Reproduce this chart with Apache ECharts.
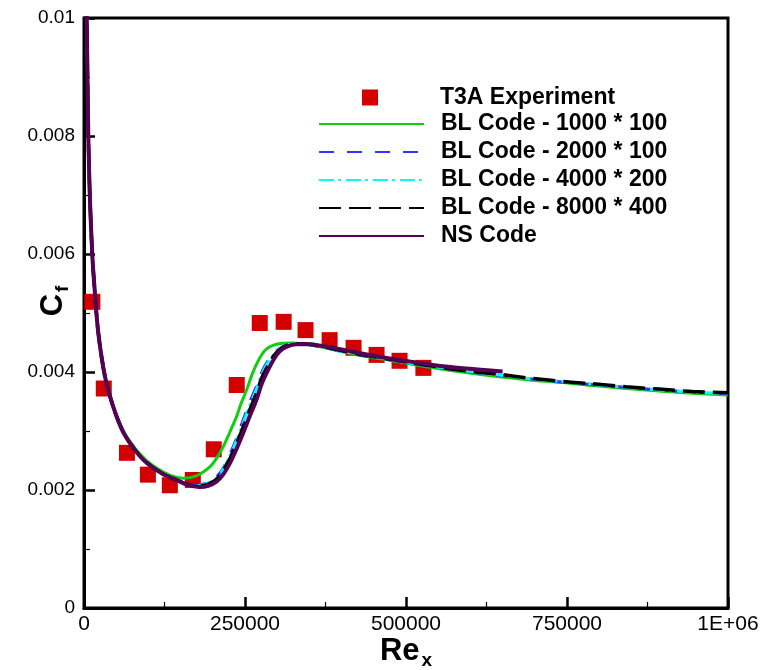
<!DOCTYPE html>
<html>
<head>
<meta charset="utf-8">
<script src="https://cdn.jsdelivr.net/npm/echarts@6/dist/echarts.min.js"></script>
<style>
  html, body { margin: 0; padding: 0; background: #fff; }
  #chart { width: 766px; height: 670px; }
</style>
</head>
<body>
<div id="chart"></div>
<script>
// Skin-friction coefficient along a flat plate (T3A case)

// Axis tick labels
const xTickLabels = ['0', '250000', '500000', '750000', '1E+06'];
const yTickLabels = ['0', '0.002', '0.004', '0.006', '0.008', '0.01'];

// T3A experiment
const reExp = [13000, 30700, 66700, 99200, 133300, 169000, 201500, 237200, 272900, 310000, 344000, 381400, 418600, 454300, 490000, 527000];
const cfExp = [0.00519, 0.00372, 0.00263, 0.00226, 0.00208, 0.00217, 0.00269, 0.00378, 0.00483, 0.00485, 0.00471, 0.00454, 0.00441, 0.00429, 0.00419, 0.00407];

// BL code, 1000 * 100
const reBL1 = [3500, 4200, 5200, 6700, 9000, 12900, 17000, 22200, 32600, 45400, 60900, 79000, 97200, 116000, 133300, 154000, 174700, 195400, 206000, 216000, 226000, 236700, 244000, 252300, 260000, 267800, 280600, 298800, 324500, 350400, 391800, 433000, 474400, 505400, 541600, 593300, 645000, 696600, 753500, 789600, 841400, 893000, 944700, 1000000];
const cfBL1 = [0.0109, 0.0100, 0.0092, 0.0080, 0.0070, 0.00598, 0.00535, 0.00468, 0.00394, 0.00343, 0.00301, 0.00271, 0.00250, 0.00235, 0.00225, 0.00220, 0.00224, 0.00239, 0.00254, 0.00273, 0.00297, 0.00324, 0.00347, 0.00369, 0.00393, 0.00413, 0.00436, 0.00447, 0.00449, 0.00446, 0.00437, 0.00427, 0.00420, 0.00414, 0.00407, 0.00399, 0.00392, 0.00386, 0.00381, 0.00377, 0.00372, 0.00368, 0.00364, 0.00361];

// Shared laminar leading-edge region of the finer runs
const reLam = [3500, 4200, 5200, 6700, 9000, 12900, 17000, 22200, 32600, 45400, 60900, 79000, 97200, 122500, 143700];
const cfLam = [0.0109, 0.0100, 0.0092, 0.0080, 0.0070, 0.00598, 0.00533, 0.00466, 0.00392, 0.00341, 0.00298, 0.00268, 0.00246, 0.00227, 0.00217];

// BL code, 2000 * 100 (after the laminar region)
const reBL2 = [160000, 175000, 195400, 205700, 216000, 226400, 237000, 247000, 257000, 267800, 276000, 285700, 295000, 303900, 315000, 329800, 350400, 370000, 391800, 433000, 489900, 541100, 593300, 645000, 696600, 753500, 841400, 944700, 1000000];
const cfBL2 = [0.00210, 0.00208, 0.00214, 0.00222, 0.00237, 0.00260, 0.00288, 0.00318, 0.00348, 0.00376, 0.00400, 0.00419, 0.00432, 0.00440, 0.00446, 0.00448, 0.00446, 0.00442, 0.00437, 0.00428, 0.00418, 0.00409, 0.00401, 0.00394, 0.00388, 0.00382, 0.00374, 0.00366, 0.00363];

// BL code, 4000 * 200
const reBL4 = [160000, 176000, 195400, 205700, 216000, 226400, 237000, 247000, 257000, 267800, 276000, 285700, 295000, 303900, 315000, 329800, 350400, 370000, 391800, 433000, 489900, 541100, 593300, 645000, 696600, 753500, 841400, 944700, 1000000];
const cfBL4 = [0.00210, 0.00207, 0.00213, 0.00220, 0.00235, 0.00257, 0.00284, 0.00313, 0.00342, 0.00371, 0.00396, 0.00416, 0.00430, 0.00439, 0.00446, 0.00448, 0.00446, 0.00443, 0.00437, 0.00429, 0.00418, 0.00410, 0.00402, 0.00395, 0.00388, 0.00383, 0.00374, 0.00366, 0.00364];

// BL code, 8000 * 400
const reBL8 = [160000, 177000, 193000, 205700, 216000, 226400, 237000, 247000, 257000, 267800, 276000, 285700, 295000, 303900, 315000, 329800, 350400, 370000, 391800, 433000, 489900, 541100, 593300, 645000, 696600, 753500, 789600, 841400, 893000, 944700, 1000000];
const cfBL8 = [0.00210, 0.00207, 0.00210, 0.00218, 0.00233, 0.00253, 0.00279, 0.00306, 0.00335, 0.00364, 0.00390, 0.00411, 0.00428, 0.00438, 0.00445, 0.00448, 0.00447, 0.00443, 0.00438, 0.00429, 0.00419, 0.00410, 0.00402, 0.00396, 0.00389, 0.00383, 0.00380, 0.00375, 0.00371, 0.00367, 0.00365];

// NS code
const reNS = [160000, 179800, 193000, 205700, 216000, 226400, 237000, 247000, 257000, 267800, 276000, 285700, 295000, 303900, 315000, 329800, 350400, 370000, 391800, 433000, 474400, 505000, 541600, 593300, 650000];
const cfNS = [0.00209, 0.00205, 0.00207, 0.00214, 0.00226, 0.00245, 0.00270, 0.00296, 0.00324, 0.00353, 0.00380, 0.00403, 0.00422, 0.00435, 0.00443, 0.00447, 0.00447, 0.00444, 0.00440, 0.00431, 0.00423, 0.00418, 0.00412, 0.00406, 0.00401];

const pairs = (xs, ys) => xs.map((x, i) => [x, ys[i]]);
const withLam = (xs, ys) => pairs(reLam, cfLam).concat(pairs(xs, ys));

const FONT = '"Liberation Sans", Arial, sans-serif';

const lineSeries = (name, data, color, width, type, z) => ({
  name, type: 'line', data, symbol: 'none', smooth: 0.3, z,
  lineStyle: { color, width, type },
  itemStyle: { color },
  emphasis: { disabled: true },
  animation: false
});

// Bold axis titles with a lowered subscript
const titleRich = (leadPad) => ({
  b: { fontFamily: FONT, fontSize: 31, fontWeight: 'bold', color: '#000', lineHeight: 34, verticalAlign: 'top', padding: [0, 0, 0, leadPad] },
  s: { fontFamily: FONT, fontSize: 19, fontWeight: 'bold', color: '#000', lineHeight: 19, padding: [15, 0, 0, 2], verticalAlign: 'top' }
});

const chart = echarts.init(document.getElementById('chart'), null, { renderer: 'canvas' });
chart.setOption({
  backgroundColor: '#fff',
  animation: false,
  grid: {
    left: 84, right: 38, top: 18, bottom: 62,
    containLabel: false, outerBoundsMode: 'none',
    show: true, borderColor: '#000', borderWidth: 3, backgroundColor: 'transparent'
  },
  xAxis: {
    type: 'value', min: 0, max: 1000000, interval: 250000,
    name: '{b|Re}{s|x}', nameLocation: 'middle', nameGap: 28, nameMoveOverlap: false,
    nameTextStyle: { rich: titleRich(0) },
    axisLine: { show: true, lineStyle: { color: '#000', width: 3 } },
    axisTick: { show: true, inside: true, length: 11, lineStyle: { color: '#000', width: 2.5 } },
    minorTick: { show: true, splitNumber: 2, length: 6, lineStyle: { color: '#000', width: 1.2 } },
    splitLine: { show: false },
    axisLabel: { color: '#000', fontFamily: FONT, fontSize: 21, margin: 6,
      formatter: v => xTickLabels[Math.round(v / 250000)] }
  },
  yAxis: {
    type: 'value', min: 0, max: 0.01, interval: 0.002,
    name: '{b|C}{s|f}', nameLocation: 'middle', nameGap: 12, nameRotate: 90, nameMoveOverlap: false,
    nameTextStyle: { rich: titleRich(24) },
    axisLine: { show: true, lineStyle: { color: '#000', width: 3 } },
    axisTick: { show: true, inside: true, length: 11, lineStyle: { color: '#000', width: 2.5 } },
    minorTick: { show: true, splitNumber: 2, length: 6, lineStyle: { color: '#000', width: 1.2 } },
    splitLine: { show: false },
    axisLabel: { color: '#000', fontFamily: FONT, fontSize: 19, margin: 9,
      formatter: v => yTickLabels[Math.round(v / 0.002)] }
  },
  legend: [
    {
      data: ['T3A Experiment'], left: 362, top: 86, padding: 0, itemWidth: 16, itemHeight: 16,
      selectedMode: false,
      textStyle: { fontFamily: FONT, fontSize: 23, fontWeight: 'bold', color: '#000', padding: [0, 0, 0, 57] }
    },
    {
      data: ['BL Code - 1000 * 100', 'BL Code - 2000 * 100', 'BL Code - 4000 * 200', 'BL Code - 8000 * 400', 'NS Code'],
      orient: 'vertical', left: 318, top: 112, padding: 0, itemWidth: 105, itemHeight: 14, itemGap: 4,
      selectedMode: false,
      itemStyle: { opacity: 0 },
      textStyle: { fontFamily: FONT, fontSize: 23, fontWeight: 'bold', color: '#000', lineHeight: 24, padding: [0, 0, 0, 12] }
    }
  ],
  series: [
    {
      name: 'T3A Experiment', type: 'scatter', data: pairs(reExp, cfExp),
      symbol: 'rect', symbolSize: 16, z: 1,
      itemStyle: { color: '#d40000', opacity: 1 },
      emphasis: { disabled: true }, animation: false
    },
    lineSeries('BL Code - 1000 * 100', pairs(reBL1, cfBL1), '#11cc11', 3, 'solid', 2),
    lineSeries('BL Code - 2000 * 100', withLam(reBL2, cfBL2), '#3333ff', 3, [15, 13], 3),
    lineSeries('BL Code - 4000 * 200', withLam(reBL4, cfBL4), '#00ffff', 3, [15, 4, 3, 5], 4),
    lineSeries('BL Code - 8000 * 400', withLam(reBL8, cfBL8), '#000000', 3.5, [22, 8], 5),
    lineSeries('NS Code', withLam(reNS, cfNS), '#550055', 4, 'solid', 6)
  ]
});
</script>
</body>
</html>
